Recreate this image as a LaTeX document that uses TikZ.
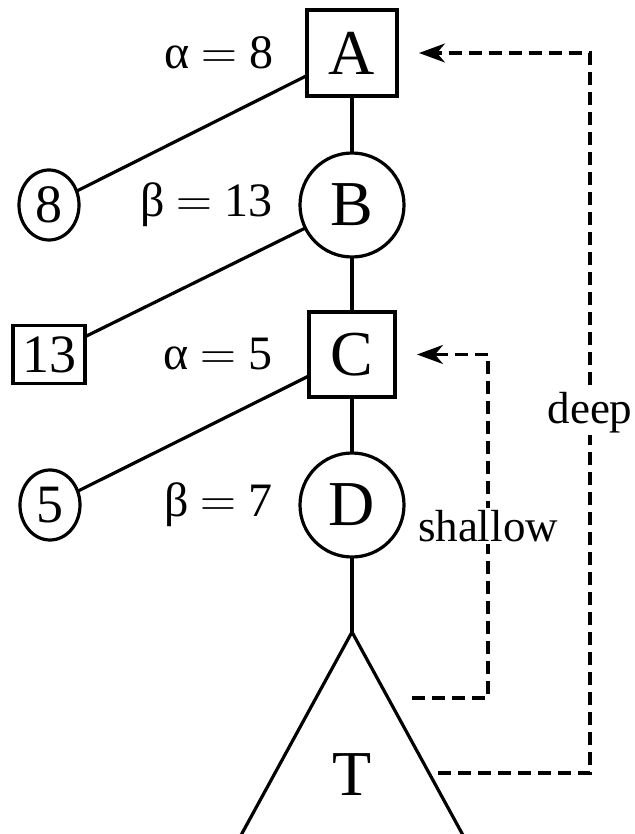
\documentclass[tikz,border=0pt]{standalone}
\usepackage{fontspec}
\setmainfont{Liberation Serif}
\usetikzlibrary{shapes,arrows.meta,positioning,calc}

\newcommand{\bnd}[2]{#1\hspace{0.24em}$=$\hspace{0.24em}#2}

\begin{document}
\begin{tikzpicture}[
            x=0.5pt, y=-0.5pt,
            line width=1.6pt,
            maxbox/.style={
                    rectangle,
                    draw,
                    minimum width=45pt,
                    minimum height=43pt,
                    inner sep=0pt,
                    outer sep=0pt,
                    font=\fontsize{32}{38}\selectfont
                },
            minnode/.style={
                    circle,
                    draw,
                    minimum size=52pt,
                    inner sep=0pt,
                    outer sep=0pt,
                    font=\fontsize{32}{38}\selectfont
                },
            leafmax/.style={
                    rectangle,
                    draw,
                    minimum width=36pt,
                    minimum height=29pt,
                    inner sep=0pt,
                    outer sep=0pt,
                    font=\fontsize{27}{32}\selectfont
                },
            leafmin/.style={
                    ellipse,
                    draw,
                    minimum width=30pt,
                    minimum height=35pt,
                    inner sep=0pt,
                    outer sep=0pt,
                    font=\fontsize{27}{32}\selectfont
                },
            bound/.style={
                    inner sep=0pt,
                    outer sep=0pt,
                    font=\fontsize{24}{29}\selectfont
                },
            tag/.style={
                    fill=white,
                    inner sep=1pt,
                    font=\fontsize{22.5}{27}\selectfont
                },
            cut/.style={
                    -{Stealth[length=13pt,width=9.5pt,inset=4pt]},
                    dash pattern=on 6.5pt off 3.5pt,
                    shorten >=11pt
                }
        ]

        \path[use as bounding box] (0,0) rectangle (634,834);
        \clip (0,0) rectangle (634,834);

        % Main line
        \node[maxbox] (A) at (352,53) {A};
        \node[minnode, below=28.5pt of A] (B) {B};
        \node[maxbox, minimum width=43pt, minimum height=42.5pt, below=27.5pt of B] (C) {C};
        \node[minnode, below=28pt of C] (D) {D};
        \coordinate[below=37.5pt of D] (top);

        % Subtree
        \node[maxbox, draw=none] (T) at ($(top)+(0,143)$) {T};
        \draw (top) -- ++(-130,238);
        \draw (top) -- ++(130,238);

        % Bounds
        \node[bound, left=17pt of A] (alphaA) {\bnd{α}{8}};
        \node[bound, left=14pt of B] (betaB) {\bnd{β}{13}};
        \node[bound, left=18.5pt of C] (alphaC) {\bnd{α}{5}};
        \node[bound, left=14pt of D] (betaD) {\bnd{β}{7}};

        % Leaves
        \node[leafmin, left=110.5pt of B] (leaf8) {8};
        \node[leafmax, left=112pt of C] (leaf13) {13};
        \node[leafmin, left=110pt of D] (leaf5) {5};

        % Edges
        \draw (A) -- (B);
        \draw (B) -- (C);
        \draw (C) -- (D);
        \draw (D) -- (top);

        \draw (A) -- (leaf8);
        \draw (B) -- (leaf13);
        \draw (C) -- (leaf5);

        % Cutoffs
        \coordinate (deepFoot) at ($(T)+(86,-2)$);
        \coordinate (shallowFoot) at ($(top)+(60,66)$);

        \draw[cut] (shallowFoot) -- ++(76,0) |- node[pos=0.25, tag] {shallow} (C);
        \draw[cut] (deepFoot) -- ++(152,0) |- node[pos=0.25, tag] {deep} (A);

    \end{tikzpicture}
\end{document}
